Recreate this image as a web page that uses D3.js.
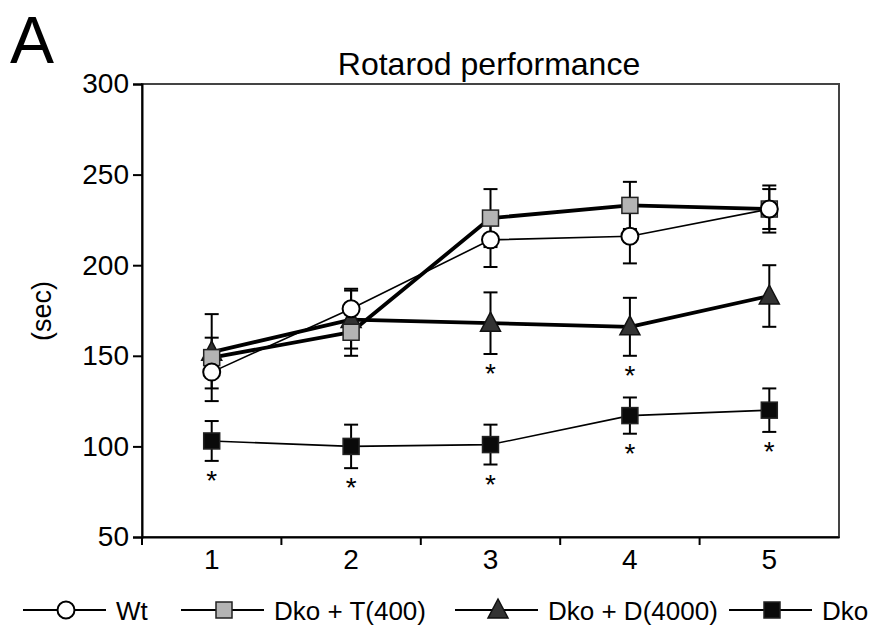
<!doctype html>
<html>
  <head>
    <script src="https://cdnjs.cloudflare.com/ajax/libs/d3/7.8.5/d3.min.js"></script>
    <style>
      body { margin: 0; background: #fff; }
      text { font-family: "Liberation Sans", Arial, sans-serif; fill: #000; }
    </style>
  </head>
  <body>
    <svg id="chart" width="892" height="630"></svg>
    <script>
      // session days
      var sessions = ["1", "2", "3", "4", "5"];
      var yTicks = [50, 100, 150, 200, 250, 300];

      // mean time on rod (sec) and error bar half-size
      var wtMean = [141, 176, 214, 216, 231];
      var wtErr = [9, 11, 15, 15, 11];
      var tMean = [149, 163, 226, 233, 231];
      var tErr = [24, 13, 16, 13, 13];
      var dMean = [152, 170, 168, 166, 183];
      var dErr = [8, 16, 17, 16, 17];
      var dkoMean = [103, 100, 101, 117, 120];
      var dkoErr = [11, 12, 11, 10, 12];

      // which sessions get a significance star
      var dStars = [false, false, true, true, false];
      var dkoStars = [true, true, true, true, true];

      var series = [
        {name: "Dko", mean: dkoMean, err: dkoErr, stars: dkoStars, width: 1.6, shape: "square", fill: "#0a0a0a"},
        {name: "Dko + D(4000)", mean: dMean, err: dErr, stars: dStars, width: 3.8, shape: "triangle", fill: "#333"},
        {name: "Dko + T(400)", mean: tMean, err: tErr, stars: null, width: 3.8, shape: "square", fill: "#b4b4b4"},
        {name: "Wt", mean: wtMean, err: wtErr, stars: null, width: 1.6, shape: "circle", fill: "#fff"}
      ];
      var legendOrder = ["Wt", "Dko + T(400)", "Dko + D(4000)", "Dko"];

      var svg = d3.select("#chart");
      var m = {left: 142, top: 84, right: 839, bottom: 537};

      var x = d3.scaleBand().domain(sessions).range([m.left, m.right]);
      var y = d3.scaleLinear().domain([50, 300]).range([m.bottom, m.top]);
      var cx = function(i) { return x(sessions[i]) + x.bandwidth() / 2; };

      // frame
      svg.append("rect").attr("x", m.left).attr("y", m.top)
        .attr("width", m.right - m.left).attr("height", m.bottom - m.top)
        .attr("fill", "none").attr("stroke", "#444").attr("stroke-width", 2);

      var yAxis = d3.axisLeft(y).tickValues(yTicks).tickSize(9).tickPadding(4);
      var yG = svg.append("g").attr("transform", "translate(" + m.left + ",0)").call(yAxis);
      yG.selectAll("text").style("font-size", "28px");

      var xAxis = d3.axisBottom(x).tickSize(0).tickPadding(12);
      var xG = svg.append("g").attr("transform", "translate(0," + m.bottom + ")").call(xAxis);
      xG.selectAll("text").style("font-size", "28px");
      // ticks sit between the sessions
      xG.selectAll(".sep").data(sessions).enter().append("line")
        .attr("x1", function(d) { return x(d); }).attr("x2", function(d) { return x(d); })
        .attr("y1", 0).attr("y2", 8).attr("stroke", "#000").attr("stroke-width", 2);
      svg.selectAll(".domain").attr("stroke-width", 2);
      svg.selectAll(".tick line").attr("stroke-width", 2);

      function marker(g, shape, fill, px, py) {
        if (shape === "circle") {
          g.append("circle").attr("cx", px).attr("cy", py).attr("r", 8.5)
            .attr("fill", fill).attr("stroke", "#000").attr("stroke-width", 2);
        } else if (shape === "square") {
          g.append("rect").attr("x", px - 8).attr("y", py - 8)
            .attr("width", 16).attr("height", 16)
            .attr("fill", fill).attr("stroke", "#222").attr("stroke-width", 1.5);
        } else {
          g.append("path")
            .attr("d", "M" + px + "," + (py - 11) + "L" + (px + 10) + "," + (py + 8) +
              "L" + (px - 10) + "," + (py + 8) + "Z")
            .attr("fill", fill).attr("stroke", "#111").attr("stroke-width", 1.5);
        }
      }

      var line = d3.line().x(function(d, i) { return cx(i); }).y(function(d) { return y(d); });

      series.forEach(function(s) {
        svg.append("path").datum(s.mean).attr("d", line)
          .attr("fill", "none").attr("stroke", "#000").attr("stroke-width", s.width)
          .attr("stroke-linejoin", "round");
      });

      series.forEach(function(s) {
        var g = svg.append("g");
        s.mean.forEach(function(v, i) {
          var hi = y(v + s.err[i]), lo = y(v - s.err[i]);
          g.append("line").attr("x1", cx(i)).attr("x2", cx(i)).attr("y1", hi).attr("y2", lo)
            .attr("stroke", "#000").attr("stroke-width", 2);
          [hi, lo].forEach(function(yy) {
            g.append("line").attr("x1", cx(i) - 7).attr("x2", cx(i) + 7).attr("y1", yy).attr("y2", yy)
              .attr("stroke", "#000").attr("stroke-width", 2);
          });
        });
      });

      series.forEach(function(s) {
        var g = svg.append("g");
        s.mean.forEach(function(v, i) {
          marker(g, s.shape, s.fill, cx(i), y(v));
          if (s.stars && s.stars[i]) {
            svg.append("text").attr("x", cx(i)).attr("y", y(v - s.err[i]) + 29)
              .attr("text-anchor", "middle").style("font-size", "28px").text("*");
          }
        });
      });

      // titles
      svg.append("text").attr("x", 489).attr("y", 75).attr("text-anchor", "middle")
        .style("font-size", "32px").text("Rotarod performance");
      svg.append("text").attr("x", 10).attr("y", 63).style("font-size", "66px").text("A");
      svg.append("text").attr("transform", "translate(51,311) rotate(-90)")
        .attr("text-anchor", "middle").style("font-size", "27px").text("(sec)");

      // legend
      var legX = [23, 181, 455, 729];
      var legY = 610;
      legendOrder.forEach(function(name, k) {
        var s = series.filter(function(d) { return d.name === name; })[0];
        var g = svg.append("g");
        g.append("line").attr("x1", legX[k]).attr("x2", legX[k] + 83).attr("y1", legY).attr("y2", legY)
          .attr("stroke", "#000").attr("stroke-width", 2);
        marker(g, s.shape, s.fill, legX[k] + 43, legY);
        g.append("text").attr("x", legX[k] + 93).attr("y", legY + 10).style("font-size", "26px").text(name);
      });
    </script>
  </body>
</html>
